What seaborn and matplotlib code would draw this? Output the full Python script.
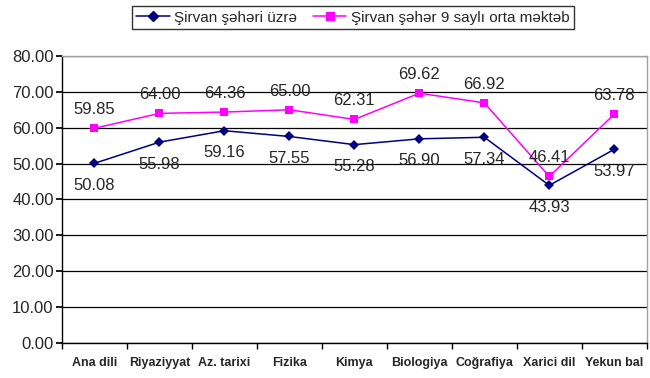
import matplotlib
matplotlib.use("Agg")
import matplotlib.pyplot as plt
import seaborn as sns
import pandas as pd
from matplotlib.ticker import FormatStrFormatter, MultipleLocator, FixedLocator
from matplotlib.lines import Line2D

categories = ["Ana dili", "Riyaziyyat", "Az. tarixi", "Fizika", "Kimya",
              "Biologiya", "Coğrafiya", "Xarici dil", "Yekun bal"]
city_values = [50.08, 55.98, 59.16, 57.55, 55.28, 56.90, 57.34, 43.93, 53.97]
school_values = [59.85, 64.00, 64.36, 65.00, 62.31, 69.62, 66.92, 46.41, 63.78]
series_names = ["Şirvan şəhəri üzrə", "Şirvan şəhər 9 saylı orta məktəb"]

sns.set_theme(style="white")
plt.rcParams['font.family'] = ['Liberation Sans', 'DejaVu Sans']

df = pd.DataFrame({
    "x": list(range(len(categories))) * 2,
    "value": city_values + school_values,
    "series": [series_names[0]] * len(categories) + [series_names[1]] * len(categories),
})

fig = plt.figure(figsize=(6.5, 3.78), dpi=100)
ax = fig.add_axes([0.0954, 0.0926, 0.8996, 0.7594])

colors = {series_names[0]: "#000080", series_names[1]: "#FF00FF"}
sns.lineplot(data=df, x="x", y="value", hue="series", style="series",
             markers={series_names[0]: "D", series_names[1]: "s"},
             dashes=False, palette=colors, ax=ax, linewidth=1.1,
             markersize=6, markeredgewidth=0, legend=False)
for line, ms in zip(ax.get_lines(), [5.5, 6.2]):
    line.set_markersize(ms)

ax.set_xlim(-0.5, len(categories) - 0.5)
ax.set_ylim(0, 80)
ax.yaxis.set_major_locator(MultipleLocator(10))
ax.yaxis.set_major_formatter(FormatStrFormatter("%.2f"))
ax.set_xticks(range(len(categories)))
ax.set_xticklabels(categories, fontsize=9, fontweight='bold')
ax.tick_params(axis='x', length=0, pad=10)
ax.tick_params(axis='y', labelsize=12, length=4, direction='out', left=True,
               color='black', pad=2)
ax.set_xlabel("")
ax.set_ylabel("")
ax.grid(axis='y', color='black', linewidth=0.9)

ax.xaxis.set_minor_locator(FixedLocator([i - 0.5 for i in range(len(categories) + 1)]))
ax.tick_params(axis='x', which='minor', length=4, direction='out', bottom=True, color='black')

for side in ['top', 'right']:
    ax.spines[side].set_color('#a0a0a0')
    ax.spines[side].set_linewidth(1)
for side in ['left', 'bottom']:
    ax.spines[side].set_color('black')
    ax.spines[side].set_linewidth(1)

for i, v in enumerate(school_values):
    ax.annotate(f"{v:.2f}", (i, v), xytext=(0, 8), textcoords='offset points',
                ha='center', va='bottom', fontsize=12)
for i, v in enumerate(city_values):
    ax.annotate(f"{v:.2f}", (i, v), xytext=(0, -10.5), textcoords='offset points',
                ha='center', va='top', fontsize=12)

handles = [Line2D([], [], color="#000080", marker="D", markersize=5, linewidth=1.1),
           Line2D([], [], color="#FF00FF", marker="s", markersize=6, linewidth=1.1)]
leg = fig.legend(handles, series_names, loc='center', bbox_to_anchor=(0.543, 0.953),
                 ncol=2, frameon=True, fontsize=11, handlelength=2.2,
                 handletextpad=0.3, columnspacing=1.0, borderpad=0.3,
                 fancybox=False)
leg.get_frame().set_edgecolor('black')
leg.get_frame().set_linewidth(1)

fig.savefig("out.png", dpi=100)
